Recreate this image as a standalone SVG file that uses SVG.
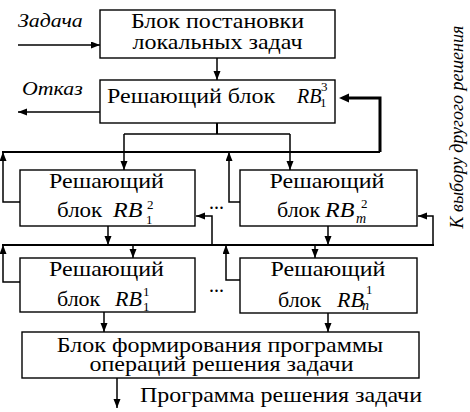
<svg xmlns="http://www.w3.org/2000/svg" width="470" height="412" viewBox="0 0 470 412">
<defs>
<marker id="ah" markerUnits="userSpaceOnUse" markerWidth="10" markerHeight="8" refX="9" refY="3.5" orient="auto">
<path d="M0,0 L9,3.5 L0,7 z" fill="#000" stroke="none"/>
</marker>
</defs>

<g id="connectors" fill="none" stroke="#000" stroke-width="1.5">
<line x1="18" y1="45" x2="100" y2="45" marker-end="url(#ah)"/>
<line x1="217" y1="58" x2="217" y2="80" marker-end="url(#ah)"/>
<line x1="100" y1="112" x2="18" y2="112" marker-end="url(#ah)"/>
<line x1="217" y1="123" x2="217" y2="134" stroke-width="2"/>
<line x1="124" y1="134" x2="290" y2="134"/>
<line x1="124" y1="134" x2="124" y2="170" marker-end="url(#ah)"/>
<line x1="290" y1="134" x2="290" y2="170" marker-end="url(#ah)"/>
<line x1="2" y1="152" x2="380" y2="152" stroke-width="2"/>
<polyline points="380,152 380,98 348,98" stroke-width="3"/>
<path d="M339,98 L349,93.5 L349,102.5 z" fill="#000" stroke="none"/>
<polyline points="20,202 3,202 3,152" marker-end="url(#ah)"/>
<polyline points="240,202 229,202 229,152" marker-end="url(#ah)"/>
<line x1="108" y1="226" x2="108" y2="245" marker-end="url(#ah)"/>
<line x1="328" y1="226" x2="328" y2="245" marker-end="url(#ah)"/>
<line x1="2" y1="245" x2="434" y2="245" stroke-width="2"/>
<polyline points="212,245 212,216 196,216" marker-end="url(#ah)"/>
<polyline points="433,245 433,216 418,216" marker-end="url(#ah)"/>
<line x1="133" y1="245" x2="133" y2="258" marker-end="url(#ah)"/>
<line x1="315" y1="245" x2="315" y2="258" marker-end="url(#ah)"/>
<polyline points="20,282 3,282 3,245" marker-end="url(#ah)"/>
<polyline points="240,280 226,280 226,245" marker-end="url(#ah)"/>
<line x1="104" y1="312" x2="104" y2="332" marker-end="url(#ah)"/>
<line x1="328" y1="313" x2="328" y2="332" marker-end="url(#ah)"/>
<line x1="117" y1="378" x2="117" y2="408" marker-end="url(#ah)"/>
</g>

<g id="labels">
<text style="font-family:'Liberation Serif',serif;font-size:19px;font-style:italic" transform="translate(18,27) scale(1.15,1)">Задача</text>
<text style="font-family:'Liberation Serif',serif;font-size:19px;font-style:italic" transform="translate(22,95) scale(1.15,1)">Отказ</text>
<text style="font-family:'Liberation Serif',serif;font-size:20px" transform="translate(140,402) scale(1.2,1)">Программа решения задачи</text>
<text style="font-family:'Liberation Serif',serif;font-size:18px;font-style:italic;text-anchor:middle" transform="translate(463,127) rotate(-90)">К выбору другого решения</text>
<text style="font-family:'Liberation Serif',serif;font-size:20px" x="209" y="209">...</text>
<text style="font-family:'Liberation Serif',serif;font-size:20px" x="209" y="292">...</text>
</g>

<g id="node-setup">
<rect x="100" y="10" width="235" height="48" fill="#fff" stroke="#000" stroke-width="1.4"/>
<text style="font-family:'Liberation Serif',serif;font-size:20px;text-anchor:middle" transform="translate(217.5,28) scale(1.2,1)">Блок постановки</text>
<text style="font-family:'Liberation Serif',serif;font-size:20px;text-anchor:middle" transform="translate(217.5,49) scale(1.2,1)">локальных задач</text>
</g>

<g id="node-rb13">
<rect x="100" y="80" width="235" height="43" fill="#fff" stroke="#000" stroke-width="1.4"/>
<text style="font-family:'Liberation Serif',serif;font-size:20px" transform="translate(107,103) scale(1.2,1)">Решающий блок</text>
<text style="font-family:'Liberation Serif',serif;font-size:20px;font-style:italic" transform="translate(297,103)">RB</text>
<text style="font-family:'Liberation Serif',serif;font-size:13px" x="321" y="91">3</text>
<text style="font-family:'Liberation Serif',serif;font-size:13px" x="320" y="107">1</text>
</g>

<g id="node-rb12">
<rect x="20" y="170" width="175" height="56" fill="#fff" stroke="#000" stroke-width="1.4"/>
<text style="font-family:'Liberation Serif',serif;font-size:20px;text-anchor:middle" transform="translate(106.5,188) scale(1.2,1)">Решающий</text>
<text style="font-family:'Liberation Serif',serif;font-size:20px" transform="translate(57,217) scale(1.15,1)">блок</text>
<text style="font-family:'Liberation Serif',serif;font-size:20px;font-style:italic" transform="translate(113,217) scale(1.2,1)">RB</text>
<text style="font-family:'Liberation Serif',serif;font-size:13px" x="147" y="209">2</text>
<text style="font-family:'Liberation Serif',serif;font-size:13px" x="146" y="224">1</text>
</g>

<g id="node-rbm2">
<rect x="240" y="170" width="177" height="56" fill="#fff" stroke="#000" stroke-width="1.4"/>
<text style="font-family:'Liberation Serif',serif;font-size:20px;text-anchor:middle" transform="translate(327,188) scale(1.2,1)">Решающий</text>
<text style="font-family:'Liberation Serif',serif;font-size:20px" transform="translate(277,217) scale(1.1,1)">блок</text>
<text style="font-family:'Liberation Serif',serif;font-size:20px;font-style:italic" transform="translate(325,217) scale(1.2,1)">RB</text>
<text style="font-family:'Liberation Serif',serif;font-size:13px" x="361" y="208">2</text>
<text style="font-family:'Liberation Serif',serif;font-size:14px;font-style:italic" x="356" y="223">m</text>
</g>

<g id="node-rb11">
<rect x="20" y="258" width="175" height="54" fill="#fff" stroke="#000" stroke-width="1.4"/>
<text style="font-family:'Liberation Serif',serif;font-size:20px;text-anchor:middle" transform="translate(106.5,276) scale(1.2,1)">Решающий</text>
<text style="font-family:'Liberation Serif',serif;font-size:20px" transform="translate(57,306) scale(1.1,1)">блок</text>
<text style="font-family:'Liberation Serif',serif;font-size:20px;font-style:italic" transform="translate(115,306) scale(1.1,1)">RB</text>
<text style="font-family:'Liberation Serif',serif;font-size:13px" x="143" y="296">1</text>
<text style="font-family:'Liberation Serif',serif;font-size:13px" x="143" y="311">1</text>
</g>

<g id="node-rbn1">
<rect x="240" y="258" width="177" height="55" fill="#fff" stroke="#000" stroke-width="1.4"/>
<text style="font-family:'Liberation Serif',serif;font-size:20px;text-anchor:middle" transform="translate(328,276) scale(1.2,1)">Решающий</text>
<text style="font-family:'Liberation Serif',serif;font-size:20px" transform="translate(278,307) scale(1.1,1)">блок</text>
<text style="font-family:'Liberation Serif',serif;font-size:20px;font-style:italic" transform="translate(337,307) scale(1.1,1)">RB</text>
<text style="font-family:'Liberation Serif',serif;font-size:13px" x="366" y="294">1</text>
<text style="font-family:'Liberation Serif',serif;font-size:14px;font-style:italic" x="362" y="310">n</text>
</g>

<g id="node-program">
<rect x="22" y="332" width="397" height="46" fill="#fff" stroke="#000" stroke-width="1.4"/>
<text style="font-family:'Liberation Serif',serif;font-size:20px;text-anchor:middle" transform="translate(220,352) scale(1.2,1)">Блок формирования программы</text>
<text style="font-family:'Liberation Serif',serif;font-size:20px;text-anchor:middle" transform="translate(221.5,371) scale(1.2,1)">операций решения задачи</text>
</g>
</svg>
